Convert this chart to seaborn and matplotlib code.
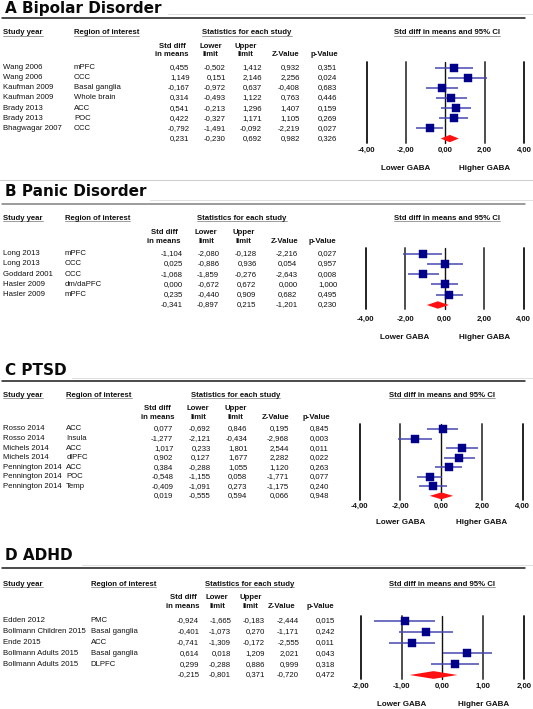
import matplotlib
matplotlib.use("Agg")
import matplotlib.pyplot as plt
import matplotlib.transforms as mtransforms
from matplotlib.lines import Line2D
import seaborn as sns
import pandas as pd

W, H = 533, 709

# ---------------- data ----------------
a_title = "A Bipolar Disorder"
a_study = ["Wang 2006", "Wang 2006", "Kaufman 2009", "Kaufman 2009", "Brady 2013", "Brady 2013", "Bhagwagar 2007"]
a_region = ["mPFC", "OCC", "Basal ganglia", "Whole brain", "ACC", "POC", "OCC"]
a_smd = [0.455, 1.149, -0.167, 0.314, 0.541, 0.422, -0.792]
a_lower = [-0.502, 0.151, -0.972, -0.493, -0.213, -0.327, -1.491]
a_upper = [1.412, 2.146, 0.637, 1.122, 1.296, 1.171, -0.092]
a_z = [0.932, 2.256, -0.408, 0.763, 1.407, 1.105, -2.219]
a_p = [0.351, 0.024, 0.683, 0.446, 0.159, 0.269, 0.027]
a_summary = [0.231, -0.230, 0.692, 0.982, 0.326]
a_ticks = [-4, -2, 0, 2, 4]

b_title = "B Panic Disorder"
b_study = ["Long 2013", "Long 2013", "Goddard 2001", "Hasler 2009", "Hasler 2009"]
b_region = ["mPFC", "OCC", "OCC", "dm/daPFC", "mPFC"]
b_smd = [-1.104, 0.025, -1.068, 0.000, 0.235]
b_lower = [-2.080, -0.886, -1.859, -0.672, -0.440]
b_upper = [-0.128, 0.936, -0.276, 0.672, 0.909]
b_z = [-2.216, 0.054, -2.643, 0.000, 0.682]
b_p = [0.027, 0.957, 0.008, 1.000, 0.495]
b_summary = [-0.341, -0.897, 0.215, -1.201, 0.230]
b_ticks = [-4, -2, 0, 2, 4]

c_title = "C PTSD"
c_study = ["Rosso 2014", "Rosso 2014", "Michels 2014", "Michels 2014", "Pennington 2014", "Pennington 2014", "Pennington 2014"]
c_region = ["ACC", "Insula", "ACC", "dlPFC", "ACC", "POC", "Temp"]
c_smd = [0.077, -1.277, 1.017, 0.902, 0.384, -0.548, -0.409]
c_lower = [-0.692, -2.121, 0.233, 0.127, -0.288, -1.155, -1.091]
c_upper = [0.846, -0.434, 1.801, 1.677, 1.055, 0.058, 0.273]
c_z = [0.195, -2.968, 2.544, 2.282, 1.120, -1.771, -1.175]
c_p = [0.845, 0.003, 0.011, 0.022, 0.263, 0.077, 0.240]
c_summary = [0.019, -0.555, 0.594, 0.066, 0.948]
c_ticks = [-4, -2, 0, 2, 4]

d_title = "D ADHD"
d_study = ["Edden 2012", "Bollmann Children 2015", "Ende 2015", "Bollmann Adults 2015", "Bollmann Adults 2015"]
d_region = ["PMC", "Basal ganglia", "ACC", "Basal ganglia", "DLPFC"]
d_smd = [-0.924, -0.401, -0.741, 0.614, 0.299]
d_lower = [-1.665, -1.073, -1.309, 0.018, -0.288]
d_upper = [-0.183, 0.270, -0.172, 1.209, 0.886]
d_z = [-2.444, -1.171, -2.555, 2.021, 0.999]
d_p = [0.015, 0.242, 0.011, 0.043, 0.318]
d_summary = [-0.215, -0.801, 0.371, -0.720, 0.472]
d_ticks = [-2, -1, 0, 1, 2]

# ---------------- layout (pixels) ----------------
layouts = [
    dict(title_y=8, line_y=17.7, line_col="#1a1a1a", light_y=13.5, light_x0=168,
         head_y=33, region_x=74, stats_cx=247, ci_cx=446.6, sd_y1=46.6, sd_y2=54.4,
         col_right=[189.5, 226, 261.7, 300, 337], col_center=[172, 210.7, 245.4, 285.5, 324.6],
         row0=67.5, sp=10.15, x_left=366.5, x_right=524, tick_y=151.5, gaba_y=168),
    dict(title_y=192, line_y=203.6, line_col="#808080", light_y=199.5, light_x0=150,
         head_y=218.5, region_x=64.6, stats_cx=242, ci_cx=446.6, sd_y1=232.8, sd_y2=241.3,
         col_right=[182.5, 219.2, 256.6, 297.4, 337.5], col_center=[164.2, 206.3, 243.4, 284.8, 322.2],
         row0=253.5, sp=10.3, x_left=365.5, x_right=523.7, tick_y=320, gaba_y=337.5),
    dict(title_y=370.3, line_y=381.2, line_col="#1a1a1a", light_y=377.7, light_x0=72,
         head_y=395.1, region_x=66.3, stats_cx=235.6, ci_cx=441.9, sd_y1=408.7, sd_y2=417.2,
         col_right=[173.4, 210.7, 247.5, 288.9, 329], col_center=[157.4, 198.2, 235.6, 276, 316.1],
         row0=429, sp=9.55, x_left=359.5, x_right=522.5, tick_y=507, gaba_y=522),
    dict(title_y=556, line_y=568.3, line_col="#1a1a1a", light_y=564.5, light_x0=82,
         head_y=584, region_x=90.7, stats_cx=249.5, ci_cx=442.4, sd_y1=597.3, sd_y2=606.7,
         col_right=[199.2, 231.1, 265.1, 299.1, 334.8], col_center=[183, 217, 250.5, 282, 320],
         row0=621, sp=10.8, x_left=360.7, x_right=524, tick_y=686.7, gaba_y=704),
]

panels = [
    (a_title, a_study, a_region, a_smd, a_lower, a_upper, a_z, a_p, a_summary, a_ticks),
    (b_title, b_study, b_region, b_smd, b_lower, b_upper, b_z, b_p, b_summary, b_ticks),
    (c_title, c_study, c_region, c_smd, c_lower, c_upper, c_z, c_p, c_summary, c_ticks),
    (d_title, d_study, d_region, d_smd, d_lower, d_upper, d_z, d_p, d_summary, d_ticks),
]

sns.set_style("white")
plt.rcParams["font.family"] = ["Liberation Sans", "DejaVu Sans"]

FS = 5.6
fig = plt.figure(figsize=(W / 100, H / 100), dpi=100)
fig.patch.set_facecolor("white")


def fx(x):
    return x / W


def fy(y):
    return 1 - y / H


def T(x, y, s, ha="left", bold=False, size=FS, family=None, color="#111111"):
    kw = {}
    if family:
        kw["family"] = family
    return fig.text(fx(x), fy(y), s, ha=ha, va="center", fontsize=size,
                    fontweight="bold" if bold else "normal", color=color, **kw)


def HL(x0, x1, y, color, lw):
    fig.add_artist(Line2D([fx(x0), fx(x1)], [fy(y), fy(y)], color=color, lw=lw,
                          transform=fig.transFigure))


def fmt(v):
    return f"{v:.3f}".replace(".", ",")


underline = []

# separator between A and B
HL(0, W, 179.5, "#cfcfcf", 0.8)

for (title, study, region, smd, lower, upper, zv, pv, summ, ticks), L in zip(panels, layouts):
    # title and rules
    T(5, L["title_y"], title, bold=True, size=11, family="DejaVu Sans", color="#0a0a0a")
    HL(L["light_x0"], W, L["light_y"], "#e0e0e0", 0.7)
    HL(2, 524.5, L["line_y"], L["line_col"], 1.1)

    # headers
    underline.append(T(3, L["head_y"], "Study year", bold=True))
    underline.append(T(L["region_x"], L["head_y"], "Region of interest", bold=True))
    underline.append(T(L["stats_cx"], L["head_y"], "Statistics for each study", ha="center", bold=True))
    underline.append(T(L["ci_cx"], L["head_y"], "Std diff in means and 95% CI", ha="center", bold=True))
    cc = L["col_center"]
    T(cc[0], L["sd_y1"], "Std diff", ha="center", bold=True)
    T(cc[0], L["sd_y2"], "in means", ha="center", bold=True)
    T(cc[1], L["sd_y1"], "Lower", ha="center", bold=True)
    T(cc[1], L["sd_y2"], "limit", ha="center", bold=True)
    T(cc[2], L["sd_y1"], "Upper", ha="center", bold=True)
    T(cc[2], L["sd_y2"], "limit", ha="center", bold=True)
    T(cc[3], L["sd_y2"], "Z-Value", ha="center", bold=True)
    T(cc[4], L["sd_y2"], "p-Value", ha="center", bold=True)

    # table rows
    n = len(study)
    cr = L["col_right"]
    for i in range(n):
        y = L["row0"] + i * L["sp"]
        T(3, y, study[i])
        T(L["region_x"], y, region[i])
        for j, v in enumerate([smd[i], lower[i], upper[i], zv[i], pv[i]]):
            T(cr[j], y, fmt(v), ha="right")
    ys = L["row0"] + n * L["sp"]
    for j, v in enumerate(summ):
        T(cr[j], ys, fmt(v), ha="right")

    # forest axes
    top_px = L["row0"] - 5.5
    bot_px = ys + 4
    ax = fig.add_axes([fx(L["x_left"]), fy(bot_px), (L["x_right"] - L["x_left"]) / W,
                       (bot_px - top_px) / H])
    ax.set_facecolor("none")
    ax.set_xlim(ticks[0], ticks[-1])
    ax.set_ylim((bot_px - L["row0"]) / L["sp"], (top_px - L["row0"]) / L["sp"])
    for s in ax.spines.values():
        s.set_visible(False)
    for k, t in enumerate(ticks):
        if k in (0, 4):
            ax.axvline(t, color="#111111", lw=1.3, clip_on=False, zorder=1)
        elif k == 2:
            ax.axvline(t, color="#111111", lw=1.0, clip_on=False, zorder=1)
        else:
            ax.axvline(t, color="#4d4d4d", lw=1.4, clip_on=False, zorder=1)

    df = pd.DataFrame({"smd": smd, "lower": lower, "upper": upper, "row": list(range(n))})
    ax.hlines(df["row"], df["lower"], df["upper"], color="#4848b0", lw=1.1, zorder=3)
    sns.scatterplot(data=df, x="smd", y="row", marker="s", s=30, color="#00008b",
                    edgecolor="#00008b", linewidth=0.3, ax=ax, legend=False, zorder=4)
    h = 0.36
    ax.fill([summ[1], summ[0], summ[2], summ[0]], [n, n - h, n, n + h],
            color="#ff1010", lw=0, zorder=4)

    ax.set_yticks([])
    ax.set_xlabel("")
    ax.set_ylabel("")
    ax.set_xticks(ticks)
    ax.set_xticklabels([fmt(t)[:-1] for t in ticks], fontsize=FS, fontweight="bold", color="#111111")
    ax.tick_params(axis="x", length=0, pad=(L["tick_y"] - bot_px - 4.3) * 0.72)

    tr = mtransforms.blended_transform_factory(ax.transData, fig.transFigure)
    ax.text(ticks[1], fy(L["gaba_y"]), "Lower GABA", transform=tr, ha="center", va="center",
            fontsize=5.8, fontweight="bold", color="#111111")
    ax.text(ticks[3], fy(L["gaba_y"]), "Higher GABA", transform=tr, ha="center", va="center",
            fontsize=5.8, fontweight="bold", color="#111111")

# underlines for group headers
fig.canvas.draw()
r = fig.canvas.get_renderer()
for t in underline:
    bb = t.get_window_extent(renderer=r)
    yb = bb.y0 + 0.6
    fig.add_artist(Line2D([bb.x0 / W, bb.x1 / W], [yb / H, yb / H], color="#8c8c8c",
                          lw=0.6, transform=fig.transFigure))

fig.savefig("out.png", dpi=100, facecolor="white")
